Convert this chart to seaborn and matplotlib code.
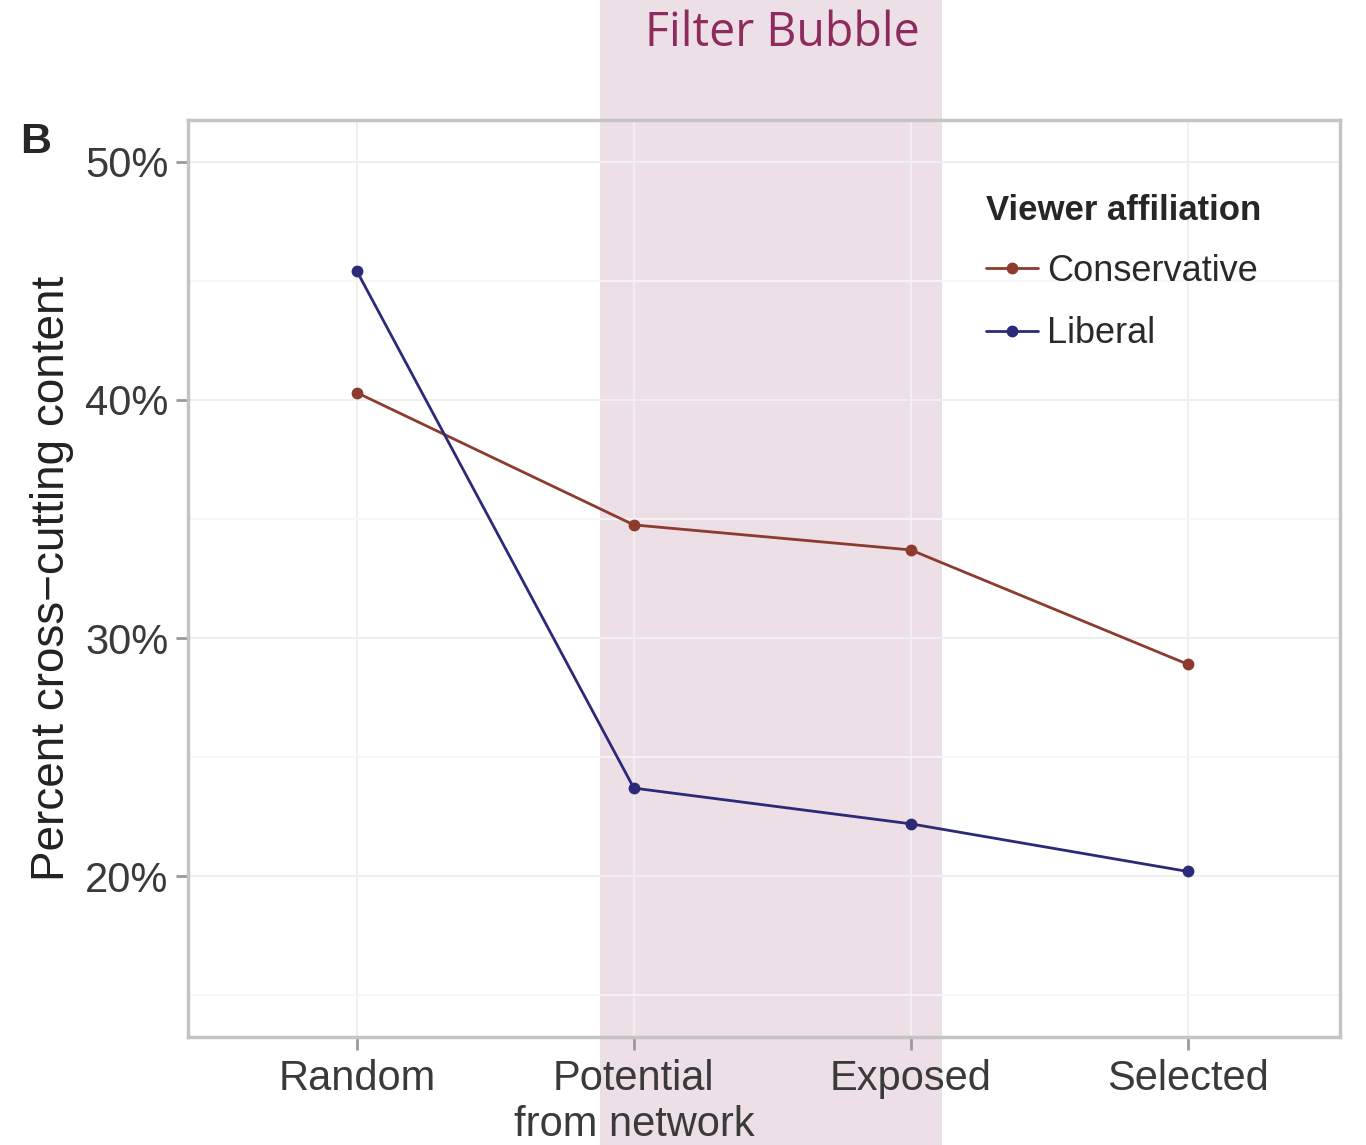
import pandas as pd
import matplotlib.pyplot as plt
import seaborn as sns
from matplotlib.patches import Rectangle

# data (percent)
stages = ['Random', 'Potential\nfrom network', 'Exposed', 'Selected']
conservative = [40.3, 34.75, 33.7, 28.9]
liberal = [45.4, 23.7, 22.2, 20.2]
yticks = [20, 30, 40, 50]

df = pd.DataFrame({
    'stage': stages * 2,
    'pct': conservative + liberal,
    'affiliation': ['Conservative'] * 4 + ['Liberal'] * 4,
})

sns.set_style('white')
plt.rcParams['font.family'] = ['Liberation Sans', 'DejaVu Sans']

fig = plt.figure(figsize=(13.66, 11.45), dpi=100)
fig.patch.set_facecolor('white')

# filter bubble band across the whole figure height
band = Rectangle((600 / 1366, 0), (942 - 600) / 1366, 1, transform=fig.transFigure,
                 facecolor='#ECDFE5', edgecolor='none', zorder=-1)
fig.patches.append(band)
fig.text(782 / 1366, 1 - 33 / 1145, 'Filter Bubble', ha='center', va='center',
         fontsize=33.5, color='#8E2B5E', family=['Open Sans', 'DejaVu Sans'])

ax = fig.add_axes([188 / 1366, 1 - 1037 / 1145, 1152 / 1366, 917 / 1145])
ax.set_facecolor('none')

sns.lineplot(data=df, x='stage', y='pct', hue='affiliation', marker='o',
             palette={'Conservative': '#8C3B2E', 'Liberal': '#2A2A78'},
             linewidth=2.0, markersize=8.5, markeredgewidth=0, sort=False, ax=ax)

ax.set_xlim(-0.61, 3.55)
ax.set_ylim(13.25, 51.75)
ax.set_yticks(yticks)
ax.set_yticklabels([f'{v}%' for v in yticks])
ax.set_yticks([15, 25, 35, 45], minor=True)

ax.grid(True, which='major', color='#EFEFEF', linewidth=1.5)
ax.grid(True, which='minor', axis='y', color='#F6F6F6', linewidth=1.2)
for s in ax.spines.values():
    s.set_color('#C4C4C4')
    s.set_linewidth(2.5)

ax.tick_params(axis='both', which='major', length=9, width=2, color='#9A9A9A',
               labelsize=30, labelcolor='#3A3A3A', bottom=True, left=True)
ax.tick_params(axis='x', pad=7)
ax.tick_params(axis='y', pad=5)
ax.tick_params(axis='both', which='minor', length=0)

ax.set_xlabel('')
ax.set_ylabel('Percent cross\u2212cutting content', fontsize=33, color='#222222', labelpad=8)

leg = ax.legend(title='Viewer affiliation', frameon=False, loc='upper left',
                bbox_to_anchor=(0.68, 0.935), borderaxespad=0, fontsize=26,
                title_fontproperties={'weight': 'bold', 'size': 25},
                handlelength=1.45, handletextpad=0.25, labelspacing=0.75,
                alignment='left')
for t in leg.get_texts():
    t.set_color('#2A2A2A')

fig.text(20 / 1366, 1 - 142 / 1145, 'B', fontsize=31, fontweight='bold', va='center', ha='left')

fig.savefig('out.png', dpi=100)
